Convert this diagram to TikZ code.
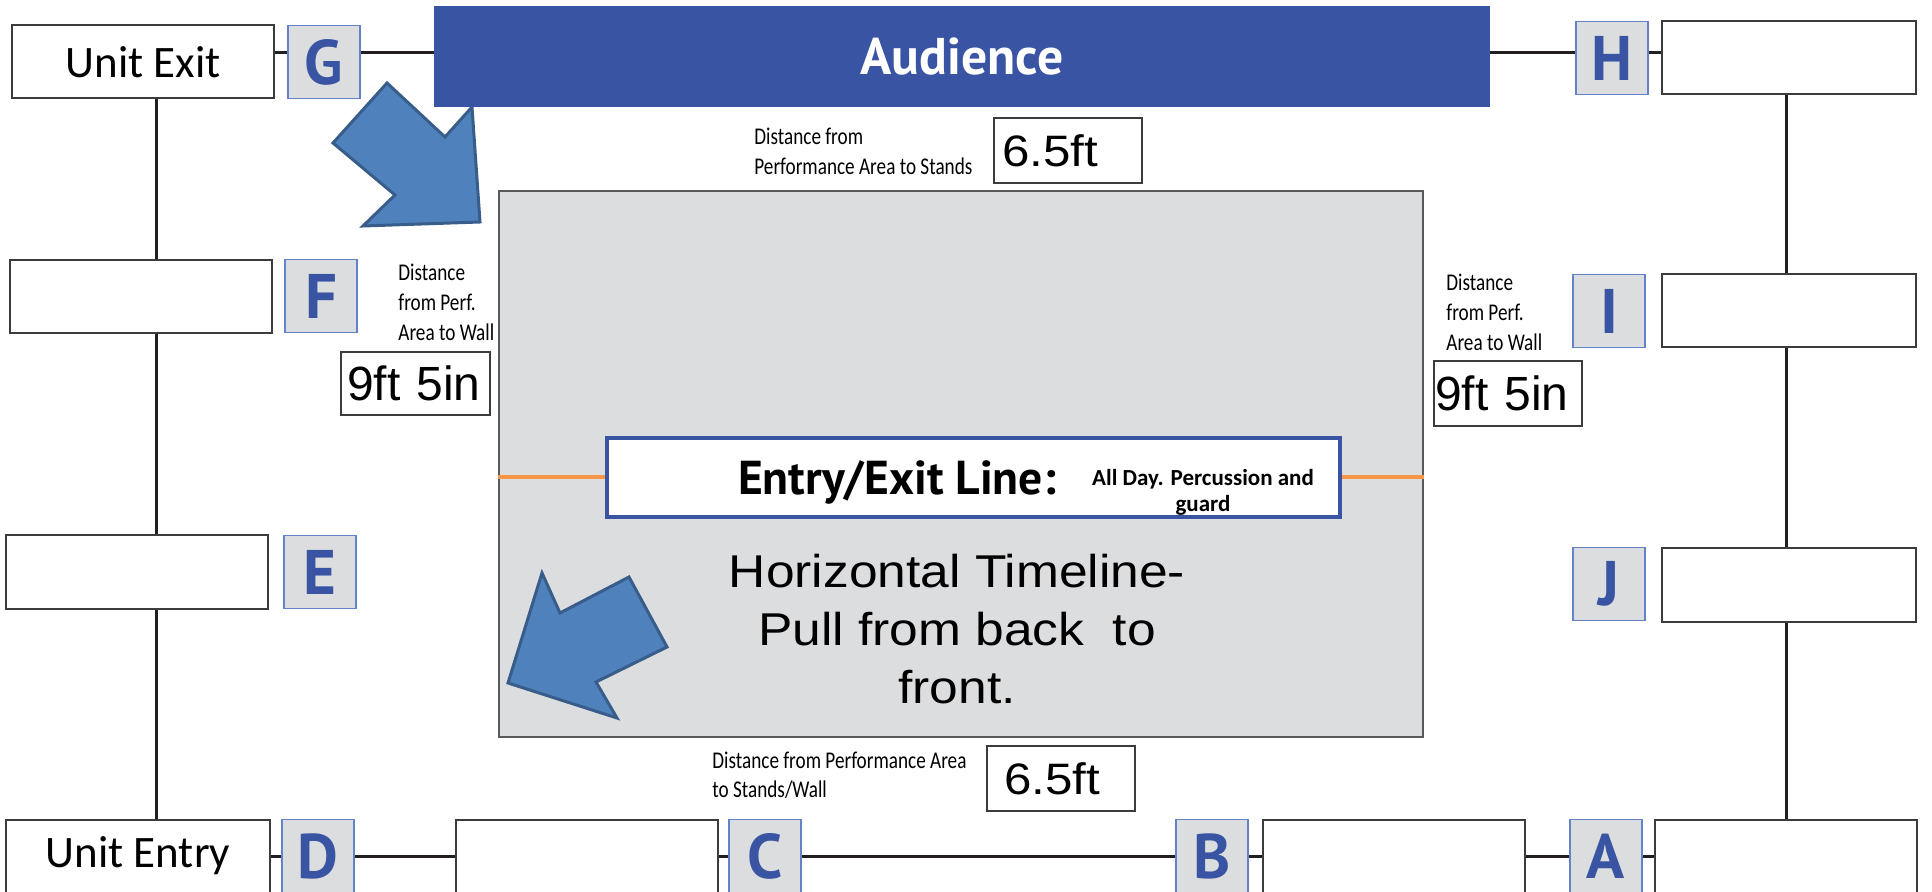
\documentclass[tikz,border=0pt]{standalone}
\usepackage{fontspec}
\setmainfont{Carlito}
\newfontfamily\arialfont{Liberation Sans}
\newfontfamily\widearial[FakeStretch=1.12]{Liberation Sans}
\newfontfamily\narrowfont[FakeStretch=0.8]{Carlito}
\newfontfamily\ptfont{PT Sans}
\usetikzlibrary{positioning,backgrounds}
\definecolor{aublue}{HTML}{3A54A4}
\definecolor{tagline}{HTML}{6282CA}
\definecolor{sgray}{HTML}{DCDDDF}
\definecolor{arrfill}{HTML}{4F81BD}
\definecolor{arrline}{HTML}{385D8A}
\definecolor{lineorange}{HTML}{F79646}
\definecolor{wirec}{HTML}{231F20}
\definecolor{boxline}{HTML}{3C3C3C}

\begin{document}
\begin{tikzpicture}[x=0.5pt,y=-0.5pt,
  slot/.style={draw=boxline,fill=white,line width=1pt,inner sep=0pt,
    minimum width=131pt,minimum height=36.5pt,font=\fontsize{22.5}{27}\selectfont},
  tag/.style={draw=tagline,fill=sgray,line width=0.8pt,inner sep=0pt,
    minimum width=36pt,minimum height=36.5pt,text=aublue,
    font=\ptfont\bfseries\fontsize{31.5}{36}\selectfont},
  meas/.style={draw=boxline,fill=white,line width=0.8pt,inner xsep=4pt,inner ysep=0pt,
    minimum height=32.5pt,text width=66pt,align=left},
  dist/.style={anchor=north west,inner sep=0pt,align=left,
    font=\narrowfont\fontsize{12}{15}\selectfont},
  wire/.style={draw=wirec,line width=1.5pt},
  orangeline/.style={draw=lineorange,line width=2pt},
  bigarrow/.style={fill=arrfill,draw=arrline,line width=1.5pt,line join=miter}]
  \useasboundingbox (0,0) rectangle (1932,892);
  \coordinate (topy) at (0,53);
  \coordinate (lcol) at (156,0);
  \coordinate (rcol) at (1786,0);

  % performance area
  \node[draw=boxline!85,fill=sgray,line width=0.75pt,inner sep=0pt,
    minimum width=462pt,minimum height=273pt] (area) at (961,464) {};
  \draw[bigarrow] (333,143) -- (387,83) -- (445,137) -- (472,107) -- (480,222)
    -- (363,226) -- (395,195) -- cycle;
  \draw[bigarrow] (542,573) -- (560,613) -- (629,577) -- (667,647) -- (596,682)
    -- (617,718) -- (508,683) -- cycle;

  \node[draw=aublue,fill=white,line width=2pt,inner sep=0pt,
    minimum width=366.5pt,minimum height=39.5pt] (entry) at (973.5,477.5) {};
  \draw[orangeline] (area.west |- entry.west) -- (entry.west)
    (entry.east) -- (area.east |- entry.east);
  \node[anchor=base,inner sep=0pt,font=\ptfont\bfseries\fontsize{23.8}{28}\selectfont]
    (etitle) at (897,495) {Entry/Exit Line:};
  \node[anchor=north,inner sep=0pt,align=center,font=\bfseries\fontsize{11.5}{13}\selectfont]
    (enote) at (1203,469) {All Day. Percussion and\\guard};
  \node[anchor=north,inner sep=0pt,align=center,font=\widearial\fontsize{23}{29}\selectfont]
    (timeline) at (957,554) {Horizontal Timeline-\\Pull from back \ to\\front.};

  % top row
  \node[slot] (uexit) at (143,62) {Unit Exit};
  \node[tag] (g) at (324,62) {G};
  \node[fill=aublue,inner sep=0pt,minimum width=528pt,minimum height=50.5pt,text=white,
    font=\ptfont\bfseries\fontsize{25.8}{30}\selectfont] (aud) at (962,56.5) {Audience};
  \node[tag] (h) at (1612,58) {H};
  \node[slot,minimum width=127pt] (hbox) at (1789,58) {};

  % left column
  \node[slot] (fbox) at (141,297) {};
  \node[tag] (f) at (321,296) {F};
  \node[slot] (ebox) at (137,572) {};
  \node[tag] (e) at (320,572) {E};

  % right column
  \node[tag] (i) at (1609,311) {I};
  \node[slot,minimum width=127pt] (ibox) at (1789,311) {};
  \node[tag] (j) at (1609,584) {J};
  \node[slot,minimum width=127pt] (jbox) at (1789,585) {};

  % bottom row
  \node[slot,minimum width=132pt] (uentry) at (138,856) {Unit Entry};
  \node[tag] (d) at (318,856) {D};
  \node[slot] (dbox) at (586.5,856) {};
  \node[tag] (c) at (765,856) {C};
  \node[tag] (b) at (1212,856) {B};
  \node[slot] (bbox) at (1394,856) {};
  \node[tag] (a) at (1606,856) {A};
  \node[slot] (abox) at (1785.5,856) {};

  % distances
  \node[dist] (dtop) at (754,128) {Distance from\\Performance Area to Stands};
  \node[meas,font=\widearial\fontsize{22}{26}\selectfont] (mtop) at (1068,150.5) {6.5ft};
  \node[dist] (dleft) at (398,264) {Distance\\from Perf.\\Area to Wall};
  \node[meas,inner xsep=3pt,text width=68.5pt,minimum height=31.5pt,
    font=\arialfont\fontsize{24}{28}\selectfont] (mleft) at (415.5,383.5) {9ft 5in};
  \node[dist] (dright) at (1446,274) {Distance\\from Perf.\\Area to Wall};
  \node[meas,inner xsep=0.5pt,text width=73pt,
    font=\arialfont\fontsize{24}{28}\selectfont] (mright) at (1508,393.5) {9ft 5in};
  \node[dist,font=\narrowfont\fontsize{12}{14.5}\selectfont] (dbot) at (712,752)
    {Distance from Performance Area\\to Stands/Wall};
  \node[meas,inner xsep=8.5pt,text width=57pt,font=\widearial\fontsize{22}{26}\selectfont]
    (mbot) at (1061,778.5) {6.5ft};

  \begin{pgfonlayer}{background}
    \draw[wire] (uexit.east |- topy) -- (g.west |- topy)
      (g.east |- topy) -- (aud.west |- topy)
      (aud.east |- topy) -- (h.west |- topy)
      (h.east |- topy) -- (hbox.west |- topy);
    \draw[wire] (uexit.south -| lcol) -- (uentry.north -| lcol);
    \draw[wire] (hbox.south -| rcol) -- (abox.north -| rcol);
    \draw[wire] (uentry.east) -- (d.west) (d.east) -- (dbox.west)
      (dbox.east) -- (c.west) (c.east) -- (b.west)
      (b.east) -- (bbox.west) (bbox.east) -- (a.west) (a.east) -- (abox.west);
  \end{pgfonlayer}
\end{tikzpicture}
\end{document}
